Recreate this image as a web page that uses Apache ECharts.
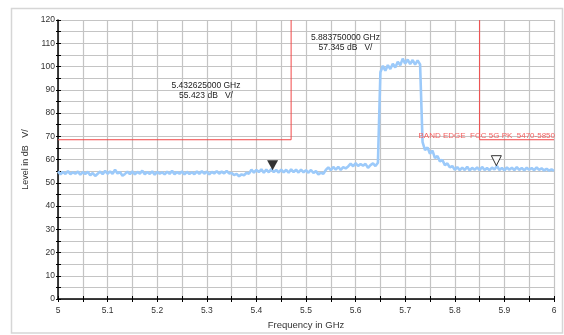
<!DOCTYPE html>
<html>
<head>
<meta charset="utf-8">
<script src="https://cdn.jsdelivr.net/npm/echarts@6/dist/echarts.min.js"></script>
<style>
html,body{margin:0;padding:0;background:#fff;}
#c{width:564px;height:335px;}
</style>
</head>
<body>
<div id="c"></div>
<script>
// Sweep: start frequency and step (GHz)
var freqStart = 5.0;
var freqStep = 0.005;
// Trace levels (dB µV), one per sweep point
var levels = [
54.9,53.6,54.6,53.8,55.0,53.7,54.5,53.9,54.8,53.5,54.6,53.8,54.7,
53.2,54.2,52.9,53.9,
54.8,53.7,55.1,53.9,54.9,53.8,55.6,54.0,54.6,
53.0,53.8,
54.8,53.7,54.9,53.6,54.7,53.9,55.2,53.7,54.6,53.8,
54.9,53.5,54.7,53.9,54.5,53.6,54.8,53.8,55.1,53.7,
54.6,53.9,54.9,53.6,54.7,53.8,54.5,53.7,54.9,53.8,
55.0,53.9,54.8,53.6,54.7,54.0,55.0,53.9,54.8,54.0,
55.1,54.0,
54.2,53.3,53.8,52.8,53.6,53.2,54.3,
53.9,
55.6,54.4,55.5,54.6,55.8,54.3,55.7,54.5,55.9,54.6,
55.5,54.4,55.7,54.5,55.6,54.3,55.8,54.6,55.6,54.4,
55.7,54.5,55.4,54.3,55.5,54.2,55.0,
53.6,54.3,53.9,
55.5,56.6,55.4,56.8,55.6,56.9,55.5,56.7,56.2,
57.0,58.2,57.1,58.4,57.2,58.0,57.4,58.1,56.4,57.6,58.3,57.2,
58.6,
97.5,
100.3,98.2,100.6,98.9,101.2,99.6,102.0,100.5,103.4,101.2,103.0,101.0,102.8,100.8,102.6,100.9,
67.5,64.0,65.2,62.5,63.8,60.6,61.5,59.2,59.8,57.6,58.3,56.6,57.2,55.6,
56.7,55.4,56.5,55.5,56.9,55.3,56.4,55.6,56.6,55.4,
56.8,55.5,56.3,55.4,56.5,55.7,57.2,55.5,56.4,55.3,
56.6,55.6,56.5,55.4,56.7,55.5,56.4,55.3,56.5,55.6,
56.3,55.4,56.6,55.5,56.2,55.3,56.0,55.2,55.8,55.1
];
// Limit lines (GHz, dB µV)
var limit1Freq = [5.0, 5.47, 5.47];
var limit1Level = [68.5, 68.5, 120];
var limit2Freq = [5.85, 5.85, 6.0];
var limit2Level = [120, 68.5, 68.5];
// Markers
var markerFreq = [5.432625, 5.88375];
var markerLevel = [55.423, 57.345];
var markerText1 = ['5.432625000 GHz', '55.423 dB   V/'];
var markerText2 = ['5.883750000 GHz', '57.345 dB   V/'];
var limitText = 'BAND EDGE  FCC 5G PK  5470-5850';
// Axis ticks
var xMin = 5, xMax = 6, xInterval = 0.05;
var yMin = 0, yMax = 120, yInterval = 5;

var traceData = levels.map(function (v, i) { return [freqStart + i * freqStep, v]; });
var lim1 = limit1Freq.map(function (f, i) { return [f, limit1Level[i]]; });
var lim2 = limit2Freq.map(function (f, i) { return [f, limit2Level[i]]; });

var FONT = '"Liberation Sans", Arial, sans-serif';
var chart = echarts.init(document.getElementById('c'), null, {renderer: 'canvas'});

function xLabel(v) {
  var t = v * 10;
  if (Math.abs(t - Math.round(t)) < 1e-6) return String(+(+v).toFixed(1));
  return '';
}
function yLabel(v) {
  return (Math.round(v) % 10 === 0) ? String(Math.round(v)) : '';
}

var option = {
  backgroundColor: '#ffffff',
  animation: false,
  grid: {left: 58, right: 10, top: 20, bottom: 35},
  xAxis: [{
    type: 'value', min: xMin, max: xMax, interval: xInterval,
    name: 'Frequency in GHz', nameLocation: 'middle', nameGap: 21,
    nameTextStyle: {fontFamily: FONT, fontSize: 9.5, color: '#333'},
    axisLine: {show: true, lineStyle: {color: '#000', width: 1.5}},
    axisTick: {show: true, length: 3, lineStyle: {color: '#000'}},
    axisLabel: {formatter: xLabel, fontFamily: FONT, fontSize: 8.5, color: '#333', margin: 7},
    splitLine: {show: true, lineStyle: {color: '#c4c4c4', width: 1.2}}
  }, {
    type: 'value', min: xMin, max: xMax, interval: xInterval, position: 'bottom',
    axisLine: {show: false},
    axisTick: {show: true, inside: true, length: 3, lineStyle: {color: '#000'}},
    axisLabel: {show: false},
    splitLine: {show: false}
  }],
  yAxis: [{
    type: 'value', min: yMin, max: yMax, interval: yInterval,
    name: 'Level in dB   V/', nameLocation: 'middle', nameGap: 24, nameRotate: 90,
    nameTextStyle: {fontFamily: FONT, fontSize: 9, color: '#333'},
    axisLine: {show: true, lineStyle: {color: '#000', width: 1.5}},
    axisTick: {show: true, length: 2, lineStyle: {color: '#000'}},
    axisLabel: {formatter: yLabel, fontFamily: FONT, fontSize: 8.5, color: '#333', margin: 3},
    splitLine: {show: true, lineStyle: {color: '#c4c4c4', width: 1.2}}
  }, {
    type: 'value', min: yMin, max: yMax, interval: yInterval, position: 'left',
    axisLine: {show: false},
    axisTick: {show: true, inside: true, length: 3, lineStyle: {color: '#000'}},
    axisLabel: {show: false},
    splitLine: {show: false}
  }],
  series: [{
    type: 'line', data: traceData, showSymbol: false, symbol: 'none',
    lineStyle: {color: '#9ccafa', width: 2.6}, z: 3
  }, {
    type: 'line', data: lim1, showSymbol: false, symbol: 'none',
    lineStyle: {color: '#f24848', width: 1}, z: 4
  }, {
    type: 'line', data: lim2, showSymbol: false, symbol: 'none',
    lineStyle: {color: '#f24848', width: 1}, z: 4
  }, {
    type: 'scatter', symbol: 'triangle', symbolSize: [11, 10], symbolRotate: 180,
    symbolOffset: [0, -5],
    data: [[markerFreq[0], markerLevel[0]]],
    itemStyle: {color: '#000'}, z: 6
  }, {
    type: 'scatter', symbol: 'triangle', symbolSize: [10, 10], symbolRotate: 180,
    symbolOffset: [0, -5],
    data: [[markerFreq[1], markerLevel[1]]],
    itemStyle: {color: '#fff', borderColor: '#000', borderWidth: 1}, z: 6
  }],
  graphic: [{
    type: 'rect', silent: true, z: -10,
    shape: {x: 11.5, y: 8.5, width: 551, height: 324.5},
    style: {fill: 'none', stroke: '#d6d6d6', lineWidth: 1.5}
  }, {
    type: 'text', x: 206, y: 81, z: 10,
    style: {text: markerText1.join('\n'), fontFamily: FONT, fontSize: 8.5, fill: '#222',
      textAlign: 'center', textVerticalAlign: 'top', lineHeight: 10}
  }, {
    type: 'text', x: 345.5, y: 33, z: 10,
    style: {text: markerText2.join('\n'), fontFamily: FONT, fontSize: 8.5, fill: '#222',
      textAlign: 'center', textVerticalAlign: 'top', lineHeight: 10}
  }, {
    type: 'text', x: 555, y: 136, z: 10,
    style: {text: limitText, fontFamily: FONT, fontSize: 8, fill: '#f46060',
      textAlign: 'right', textVerticalAlign: 'middle'}
  }]
};
chart.setOption(option);
</script>
</body>
</html>
